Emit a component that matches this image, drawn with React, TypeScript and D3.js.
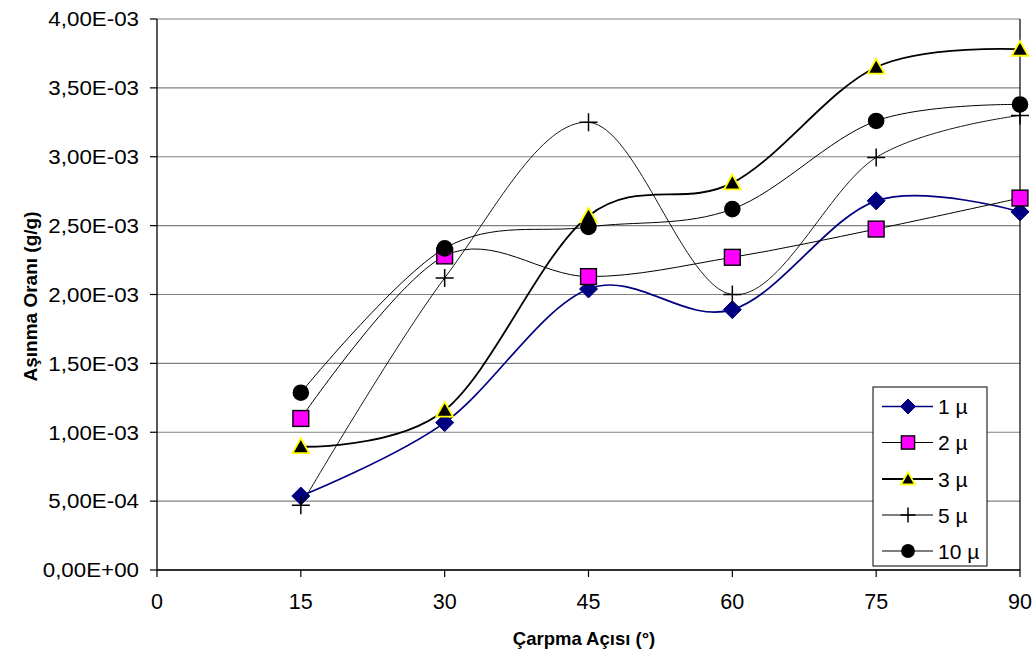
import React from "react";
import * as d3 from "d3";

// Impact angle (degrees) on the x axis
const angles = [15, 30, 45, 60, 75, 90];

// Wear rate (g/g) for each particle size
const wear1 = [5.37e-4, 1.07e-3, 2.04e-3, 1.89e-3, 2.68e-3, 2.6e-3];
const wear2 = [1.1e-3, 2.28e-3, 2.13e-3, 2.27e-3, 2.475e-3, 2.7e-3];
const wear3 = [8.95e-4, 1.16e-3, 2.57e-3, 2.81e-3, 3.65e-3, 3.78e-3];
const wear5 = [4.7e-4, 2.12e-3, 3.25e-3, 2.0e-3, 2.995e-3, 3.3e-3];
const wear10 = [1.287e-3, 2.335e-3, 2.49e-3, 2.62e-3, 3.26e-3, 3.38e-3];

const seriesNames = ["1 µ", "2 µ", "3 µ", "5 µ", "10 µ"];

const xTicks = [0, 15, 30, 45, 60, 75, 90];
const yTicks = [0, 5e-4, 1e-3, 1.5e-3, 2e-3, 2.5e-3, 3e-3, 3.5e-3, 4e-3];

const xTitle = "Çarpma Açısı (°)";
const yTitle = "Aşınma Oranı (g/g)";

const W = 1036;
const H = 656;
const M = { left: 157, right: 16, top: 19, bottom: 86 };
const FONT = "'Liberation Sans', Arial, Helvetica, sans-serif";

type MarkerKind = "diamond" | "square" | "triangle" | "plus" | "circle";

const styles: { stroke: string; width: number; marker: MarkerKind }[] = [
  { stroke: "#000080", width: 1.7, marker: "diamond" },
  { stroke: "#000000", width: 1, marker: "square" },
  { stroke: "#000000", width: 1.8, marker: "triangle" },
  { stroke: "#000000", width: 0.9, marker: "plus" },
  { stroke: "#000000", width: 1, marker: "circle" },
];

// Excel-like scientific label: 2,50E-03
function sci(v: number): string {
  if (v === 0) return "0,00E+00";
  const [m, e] = v.toExponential(2).split("e");
  const n = parseInt(e, 10);
  const sign = n < 0 ? "-" : "+";
  const exp = String(Math.abs(n)).padStart(2, "0");
  return `${m.replace(".", ",")}E${sign}${exp}`;
}

function Marker({ kind, x, y, s }: { kind: MarkerKind; x: number; y: number; s: number }) {
  const h = s / 2;
  switch (kind) {
    case "diamond":
      return (
        <path
          d={`M${x},${y - h}L${x + h},${y}L${x},${y + h}L${x - h},${y}Z`}
          fill="#000080"
          stroke="#000080"
          strokeWidth={1}
        />
      );
    case "square": {
      const a = s * 0.44;
      return (
        <rect x={x - a} y={y - a} width={2 * a} height={2 * a} fill="#FF00FF" stroke="#000" strokeWidth={1.4} />
      );
    }
    case "triangle": {
      const a = s * 0.46;
      return (
        <path
          d={`M${x},${y - a}L${x + a},${y + a * 0.78}L${x - a},${y + a * 0.78}Z`}
          fill="#000"
          stroke="#FFFF00"
          strokeWidth={1.8}
          strokeLinejoin="miter"
        />
      );
    }
    case "plus":
      return (
        <path
          d={`M${x - h},${y}L${x + h},${y}M${x},${y - h}L${x},${y + h}`}
          stroke="#000"
          strokeWidth={1.5}
          fill="none"
        />
      );
    case "circle":
      return <circle cx={x} cy={y} r={s * 0.46} fill="#000" />;
  }
}

export default function App() {
  const data = [wear1, wear2, wear3, wear5, wear10];

  const x = d3.scaleLinear().domain([0, 90]).range([M.left, W - M.right]);
  const y = d3.scaleLinear().domain([0, 4e-3]).range([H - M.bottom, M.top]);

  const line = d3
    .line<number>()
    .x((_, i) => x(angles[i]))
    .y((d) => y(d))
    .curve(d3.curveCardinal.tension(0));

  const x0 = x(0);
  const x1 = x(90);
  const yb = y(0);
  const yt = y(4e-3);

  const legend = { x: 873, y: 387, w: 114, h: 179 };
  const legendRows = [406.5, 442.5, 479, 515, 551];

  return (
    <svg
      width={W}
      height={H}
      style={{ position: "absolute", left: 0, top: 0, background: "#fff" }}
      fontFamily={FONT}
    >
      <rect width={W} height={H} fill="#fff" />

      {/* horizontal gridlines */}
      {yTicks.map((t) => (
        <line key={`g${t}`} x1={x0} x2={x1} y1={y(t)} y2={y(t)} stroke="#808080" strokeWidth={1.2} />
      ))}
      {/* right border of plot area */}
      <line x1={x1} x2={x1} y1={yt} y2={yb} stroke="#000" strokeWidth={1.2} />

      {/* y axis */}
      <line x1={x0} x2={x0} y1={yt} y2={yb} stroke="#000" strokeWidth={1.3} />
      {yTicks.map((t) => (
        <g key={`y${t}`}>
          <line x1={x0 - 7} x2={x0} y1={y(t)} y2={y(t)} stroke="#000" strokeWidth={1.2} />
          <text
            transform={`translate(${x0 - 18},${y(t) + 7.3}) scale(1.09,1)`}
            fontSize={20.5}
            textAnchor="end"
            fill="#000"
          >
            {sci(t)}
          </text>
        </g>
      ))}

      {/* x axis */}
      <line x1={x0} x2={x1} y1={yb} y2={yb} stroke="#000" strokeWidth={1.6} />
      {xTicks.map((t) => (
        <g key={`x${t}`}>
          <line x1={x(t)} x2={x(t)} y1={yb} y2={yb + 7} stroke="#000" strokeWidth={1.2} />
          <text x={x(t)} y={609} fontSize={21.5} textAnchor="middle" fill="#000">
            {t}
          </text>
        </g>
      ))}

      {/* axis titles */}
      <text x={584} y={645} fontSize={18.5} fontWeight="bold" textAnchor="middle" fill="#000">
        {xTitle}
      </text>
      <text
        transform={`translate(37,${(yt + yb) / 2 + 2}) rotate(-90)`}
        fontSize={19}
        fontWeight="bold"
        textAnchor="middle"
        fill="#000"
      >
        {yTitle}
      </text>

      {/* series */}
      {data.map((vals, si) => (
        <g key={`s${si}`}>
          <path d={line(vals) ?? ""} fill="none" stroke={styles[si].stroke} strokeWidth={styles[si].width} />
          {vals.map((v, i) => (
            <Marker key={i} kind={styles[si].marker} x={x(angles[i])} y={y(v)} s={18} />
          ))}
        </g>
      ))}

      {/* legend */}
      <rect x={legend.x} y={legend.y} width={legend.w} height={legend.h} fill="#fff" stroke="#000" strokeWidth={1} />
      {seriesNames.map((name, i) => (
        <g key={`l${i}`}>
          <line
            x1={882}
            x2={933}
            y1={legendRows[i]}
            y2={legendRows[i]}
            stroke={styles[i].stroke}
            strokeWidth={Math.max(1, styles[i].width)}
          />
          <Marker kind={styles[i].marker} x={908} y={legendRows[i]} s={15} />
          <text x={938} y={legendRows[i] + 7.5} fontSize={21} fill="#000">
            {name}
          </text>
        </g>
      ))}
    </svg>
  );
}
